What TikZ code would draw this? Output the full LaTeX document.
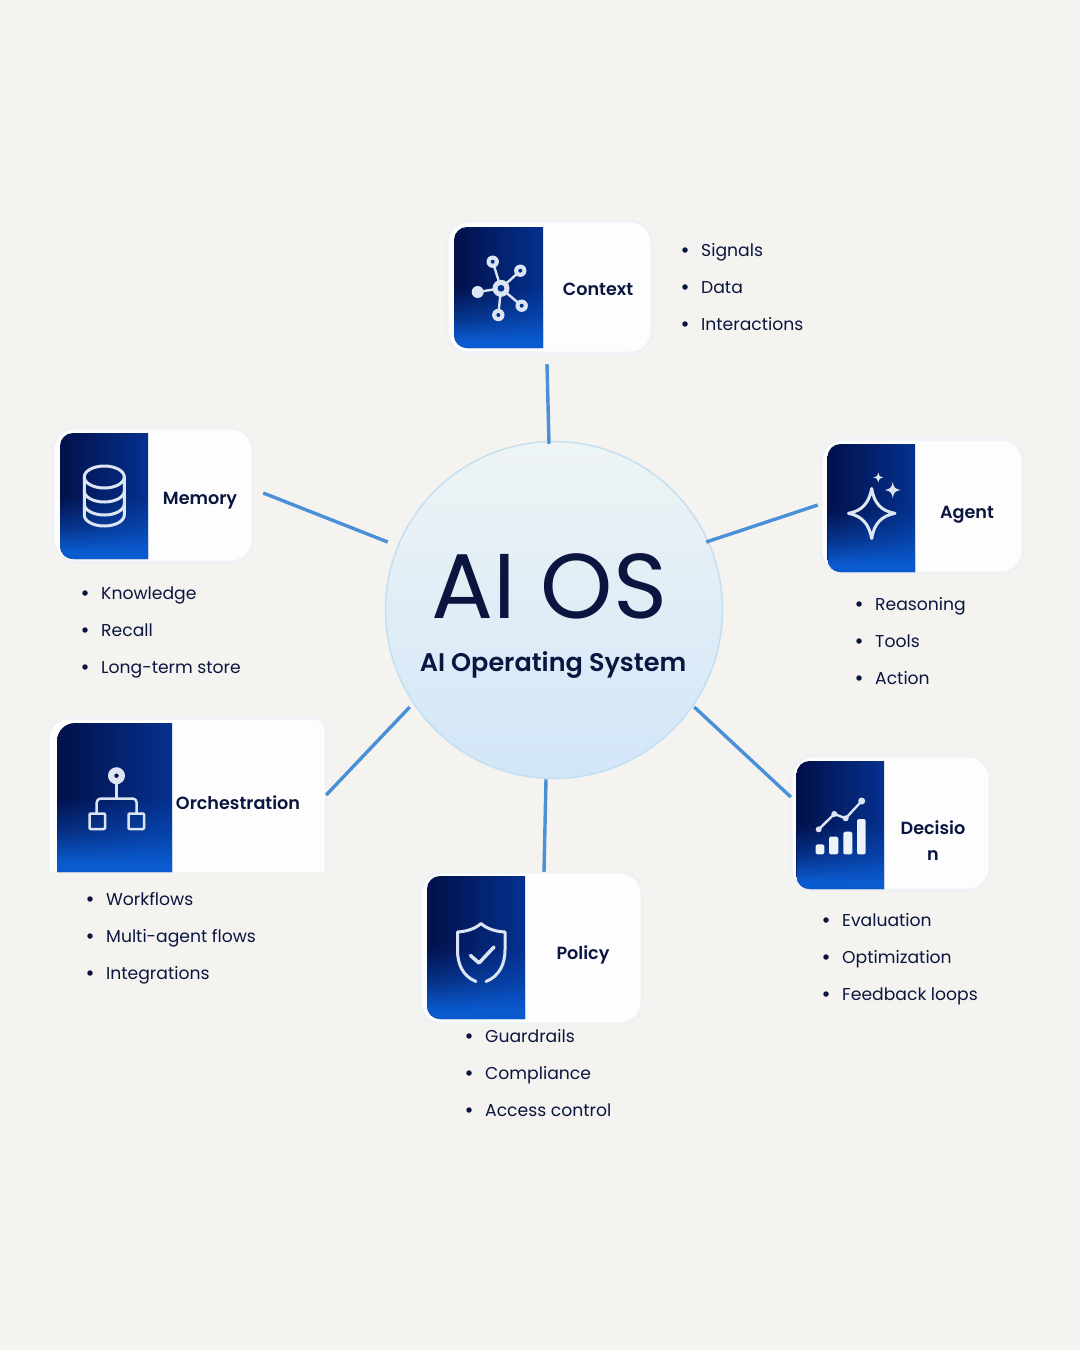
\documentclass[tikz,border=0pt]{standalone}
\usepackage{fontspec}
\usetikzlibrary{fadings}
\setmainfont{Poppins}[BoldFont={Poppins SemiBold}]
\definecolor{bgc}{HTML}{F4F3EF}
\definecolor{ink}{HTML}{0B1640}
\definecolor{linkc}{HTML}{4A90D9}
\definecolor{navyL}{HTML}{03104A}
\definecolor{navyR}{HTML}{04318F}
\definecolor{brightb}{HTML}{0B5BD0}
\definecolor{iconc}{HTML}{DCE6F3}
\definecolor{hubT}{HTML}{EEF4F4}
\definecolor{hubB}{HTML}{D2E6F8}
\definecolor{hubE}{HTML}{C4DFF2}
\definecolor{cardE}{HTML}{EEF2F4}
\pgfdeclareverticalshading{bfs}{100bp}{color(0bp)=(transparent!0); color(28bp)=(transparent!0); color(38bp)=(transparent!55); color(50bp)=(transparent!100); color(100bp)=(transparent!100)}
\pgfdeclarefading{bf}{\pgfuseshading{bfs}}
\tikzset{
  x=1pt,y=-1pt,
  link/.style={draw=linkc,line width=3.4pt},
  cardtitle/.style={font=\fontsize{17.6}{26}\selectfont\bfseries,text=ink,align=center,inner sep=0pt},
  listitem/.style={font=\fontsize{17.2}{22}\selectfont,text=ink,anchor=mid west,inner sep=0pt},
  bulletdot/.style={circle,fill=ink,inner sep=0pt,minimum size=5.5pt},
  iconline/.style={draw=iconc,line width=3pt,line cap=round,line join=round},
  cardface/.style={fill=white!85!bgc,draw=cardE,line width=3pt,rounded corners=22pt},
}
\newcommand{\panel}[4]{%
  \path[left color=navyL,right color=navyR] (#3,#2) [rounded corners=13pt] -- (#1,#2) -- (#1,#4) [sharp corners] -- (#3,#4) -- cycle;
  \path[fill=brightb,path fading=bf] (#3,#2) [rounded corners=13pt] -- (#1,#2) -- (#1,#4) [sharp corners] -- (#3,#4) -- cycle;
}
\newcommand{\listline}[4]{%
  \node[bulletdot] (#1b) at (#2-16,#3) {};
  \node[listitem] (#1) at (#2,#3+3.6) {#4};
}
\begin{document}
\begin{tikzpicture}
\useasboundingbox[fill=bgc] (0,0) rectangle (1080,1350);

% cards
\path[cardface] (447,221) rectangle (652,353);
\node[inner sep=0pt,minimum width=205pt,minimum height=132pt] (ctx) at (549.5,287) {};
\panel{454}{227}{543}{348}

\path[cardface] (53,428) rectangle (253,562);
\node[inner sep=0pt,minimum width=200pt,minimum height=134pt] (mem) at (153,495) {};
\panel{60}{433}{148}{559}

\path[cardface] (821,439) rectangle (1023,573);
\node[inner sep=0pt,minimum width=202pt,minimum height=134pt] (agt) at (922,506) {};
\panel{827.5}{444}{915}{572}

\path[fill=white!85!bgc] (48,872) [rounded corners=20pt] -- (48,718) [rounded corners=12pt] -- (326,718) [sharp corners] -- (326,872) -- cycle;
\path[draw=cardE,line width=3pt] (48,872) [rounded corners=20pt] -- (48,718) [rounded corners=12pt] -- (326,718) [sharp corners] -- (326,872);
\node[inner sep=0pt,minimum width=278pt,minimum height=154pt] (orc) at (187,795) {};
\path[left color=navyL,right color=navyR] (172,723) [rounded corners=18pt] -- (57,723) [sharp corners] -- (57,872) -- (172,872) -- cycle;
\path[fill=brightb,path fading=bf] (172,723) [rounded corners=18pt] -- (57,723) [sharp corners] -- (57,872) -- (172,872) -- cycle;

\path[cardface] (420,872) rectangle (642,1024);
\node[inner sep=0pt,minimum width=222pt,minimum height=152pt] (pol) at (531,948) {};
\panel{427}{876}{525}{1019}

\path[cardface] (791,756) rectangle (990,890);
\node[inner sep=0pt,minimum width=199pt,minimum height=134pt] (dec) at (890.5,823) {};
\panel{796.5}{761}{884}{889}

% hub
\node[circle,draw=hubE,line width=1.5pt,top color=hubT,bottom color=hubB,minimum size=337pt,inner sep=0pt] (hub) at (554,610) {};
\node[font=\fontsize{92}{94}\selectfont,text=ink,inner sep=0pt] (hubtitle) at (549.5,586) {AI OS};
\node[font=\fontsize{25.5}{30}\selectfont\bfseries,text=ink,inner sep=0pt] (hubsub) at (553,664.5) {AI Operating System};

% connectors
\draw[link] ([shift={(-2.5,11)}]ctx.south) -- ([shift={(-5,3)}]hub.north);
\draw[link] ([shift={(10,-2)}]mem.east) -- ([shift={(3,-68)}]hub.west);
\draw[link] ([shift={(-3,-1)}]agt.west) -- ([shift={(-17,-68)}]hub.east);
\draw[link] (orc.east) -- ([shift={(25,97)}]hub.west);
\draw[link] ([shift={(13,0)}]pol.north) -- ([shift={(-8,0)}]hub.south);
\draw[link] ([shift={(0,-26)}]dec.west) -- ([shift={(-29,97)}]hub.east);

% titles
\node[cardtitle] (ctxt) at (598,289) {Context};
\node[cardtitle] (memt) at (200,500.5) {Memory};
\node[cardtitle] (agtt) at (967,515) {Agent};
\node[cardtitle] (orct) at (238,803) {Orchestration};
\node[cardtitle] (polt) at (583,954.5) {Policy};
\node[cardtitle] (dect) at (933,841) {Decisio\\[0pt]n};

% lists
\listline{c1}{701}{250}{Signals}
\listline{c2}{701}{287}{Data}
\listline{c3}{701}{324}{Interactions}
\listline{m1}{101}{593}{Knowledge}
\listline{m2}{101}{630}{Recall}
\listline{m3}{101}{667}{Long-term store}
\listline{a1}{875}{604}{Reasoning}
\listline{a2}{875}{641}{Tools}
\listline{a3}{875}{678}{Action}
\listline{o1}{106}{899}{Workflows}
\listline{o2}{106}{936}{Multi-agent flows}
\listline{o3}{106}{973}{Integrations}
\listline{p1}{485}{1036}{Guardrails}
\listline{p2}{485}{1073}{Compliance}
\listline{p3}{485}{1110}{Access control}
\listline{d1}{842}{920}{Evaluation}
\listline{d2}{842}{957}{Optimization}
\listline{d3}{842}{994}{Feedback loops}

% icon: network
\draw[iconline,line width=2.4pt] (501,288.3) -- (492.7,261.7) (501,288.3) -- (520.3,270.7) (501,288.3) -- (477.7,292) (501,288.3) -- (521.7,305.7) (501,288.3) -- (498.3,315);
\foreach \px/\py in {492.7/261.7,520.3/270.7,521.7/305.7,498.3/315}{
  \fill[iconc] (\px,\py) circle[radius=6.2pt];
  \fill[navyR] (\px,\py) circle[radius=2pt];
}
\fill[iconc] (477.7,292) circle[radius=6pt];
\fill[iconc] (501,288.3) circle[radius=8.5pt];
\fill[navyR] (501,288.3) circle[radius=3.4pt];

% icon: database
\draw[iconline] (104.3,477) ellipse[x radius=20pt,y radius=11pt];
\draw[iconline] (84.3,477) -- (84.3,515) arc[start angle=180,end angle=360,x radius=20pt,y radius=11pt] -- (124.3,477);
\draw[iconline] (84.3,491) arc[start angle=180,end angle=360,x radius=20pt,y radius=11pt];
\draw[iconline] (84.3,504) arc[start angle=180,end angle=360,x radius=20pt,y radius=11pt];

% icon: sparkle
\draw[iconline] (871.7,488.5) .. controls (874,503) and (881,511) .. (895,513.3) .. controls (881,516) and (874,524) .. (871.7,538.5) .. controls (869,524) and (862,516) .. (848.5,513.3) .. controls (862,511) and (869,503) .. (871.7,488.5) -- cycle;
\fill[iconc] (892.7,482) .. controls (893.5,487) and (895,489) .. (900.5,490) .. controls (895,491) and (893.5,493) .. (892.7,498) .. controls (892,493) and (890.5,491) .. (885,490) .. controls (890.5,489) and (892,487) .. (892.7,482) -- cycle;
\fill[iconc] (878.3,472.3) .. controls (879,476) and (880,477) .. (883.5,477.3) .. controls (880,478) and (879,479) .. (878.3,482.5) .. controls (877.6,479) and (876.6,478) .. (873.1,477.3) .. controls (876.6,477) and (877.6,476) .. (878.3,472.3) -- cycle;

% icon: tree
\draw[iconline,line width=2.5pt,rounded corners=4pt] (96.7,813) -- (96.7,798.5) -- (136.7,798.5) -- (136.7,813);
\draw[iconline,line width=2.5pt] (116.5,782) -- (116.5,798.5);
\draw[iconline,line width=2.5pt,rounded corners=1pt] (89.5,813.5) rectangle (105,829);
\draw[iconline,line width=2.5pt,rounded corners=1pt] (128.5,813.5) rectangle (144,829);
\fill[iconc] (116.5,775.7) circle[radius=8.5pt];
\fill[navyL] (116.5,775.7) circle[radius=2.2pt];

% icon: shield
\draw[iconline] (476,981.5) .. controls (462,976) and (457.5,963) .. (457.5,950) -- (457.5,932) .. controls (466,931.5) and (475,929) .. (481,923.5) .. controls (487,929) and (496,931.5) .. (505,932) -- (505,950) .. controls (505,963) and (500,976) .. (486,981.5);
\draw[iconline,line width=3.5pt] (470.5,955.5) -- (479,963) -- (494,947);

% icon: chart
\foreach \ax/\bx/\ty in {815.7/824.3/844.3,829/838.3/836.7,843.3/852.3/831.7,857/865.7/819}{
  \fill[iconc!50!white,rounded corners=1.5pt] (\ax,\ty) rectangle (\bx,854.3);
}
\draw[iconline,line width=2.4pt] (818.7,829.3) -- (834.3,814) -- (845.7,818.3) -- (861.7,801);
\fill[iconc] (818.7,829.3) circle[radius=3pt];
\fill[iconc] (834.3,814) circle[radius=3pt];
\fill[iconc] (845.7,818.3) circle[radius=3pt];
\fill[iconc] (861.7,801) circle[radius=3.5pt];
\end{tikzpicture}
\end{document}
